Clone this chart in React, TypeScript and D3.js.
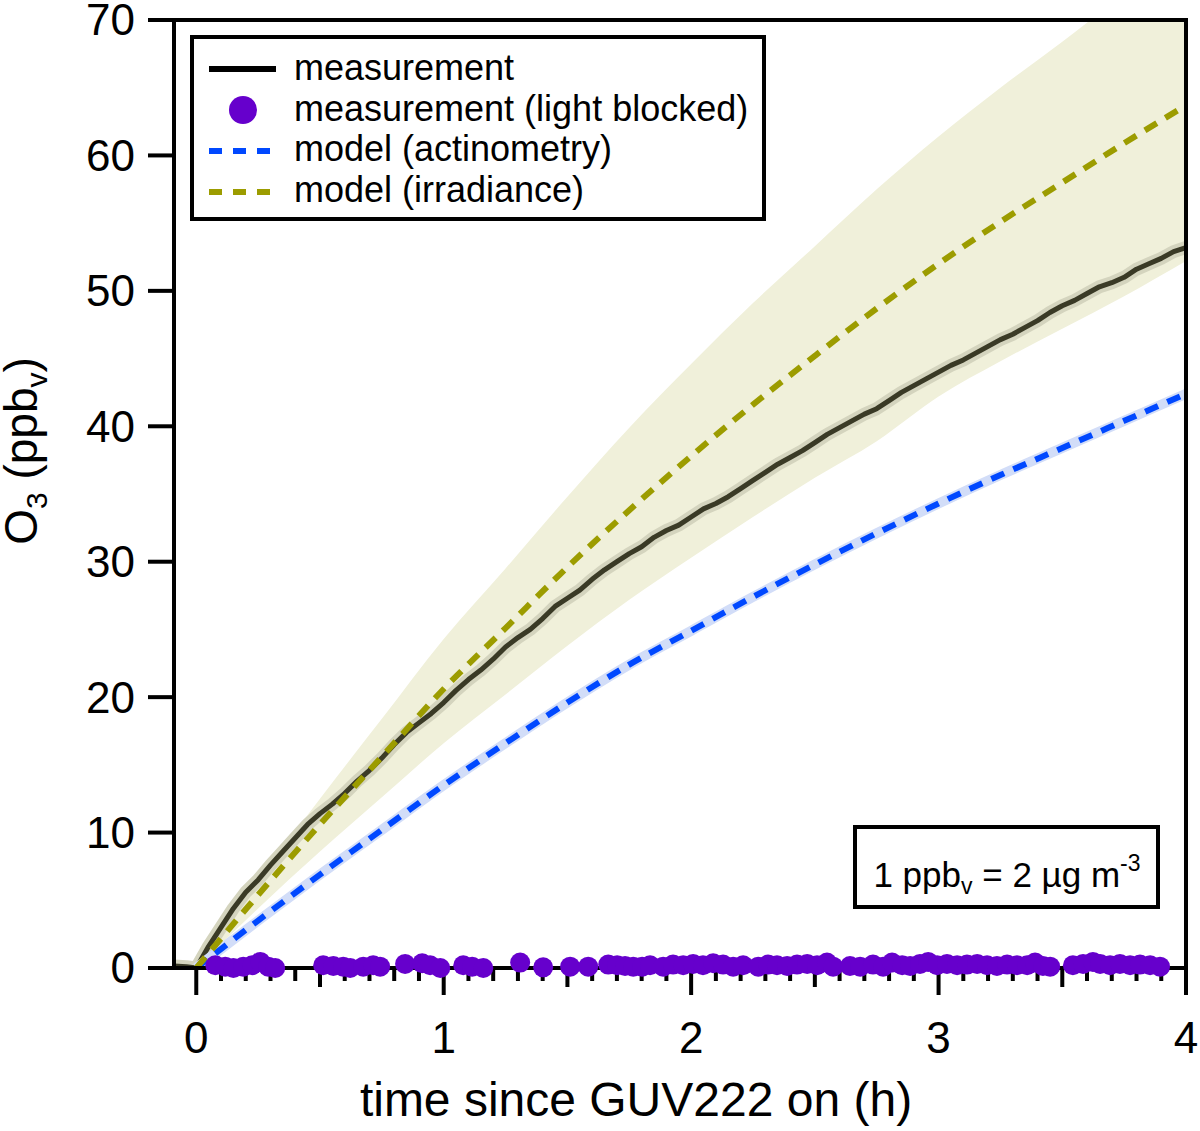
import React from 'react';
import * as d3 from 'd3';

// ---------- data ----------
const measTime = [
  -0.09, -0.04, 0.0, 0.05, 0.1, 0.15, 0.2, 0.25, 0.3, 0.35, 0.4, 0.45, 0.5, 0.55, 0.6, 0.65, 0.7, 0.75, 0.8, 0.85,
  0.9, 0.95, 1.0, 1.05, 1.1, 1.15, 1.2, 1.25, 1.3, 1.35, 1.4, 1.45, 1.5, 1.55, 1.6, 1.65, 1.7, 1.75, 1.8, 1.85,
  1.9, 1.95, 2.0, 2.05, 2.1, 2.15, 2.2, 2.25, 2.3, 2.35, 2.4, 2.45, 2.5, 2.55, 2.6, 2.65, 2.7, 2.75, 2.8, 2.85,
  2.9, 2.95, 3.0, 3.05, 3.1, 3.15, 3.2, 3.25, 3.3, 3.35, 3.4, 3.45, 3.5, 3.55, 3.6, 3.65, 3.7, 3.75, 3.8, 3.85,
  3.9, 3.95, 4.0,
];
const measO3 = [
  0.15, 0.1, 0.0, 1.6, 3.0, 4.4, 5.6, 6.5, 7.6, 8.6, 9.6, 10.6, 11.4, 12.1, 12.9, 13.8, 14.6, 15.5, 16.5, 17.4,
  18.1, 18.8, 19.6, 20.5, 21.3, 22.0, 22.8, 23.7, 24.4, 25.0, 25.8, 26.7, 27.3, 27.9, 28.7, 29.4, 30.0, 30.6, 31.1, 31.8,
  32.3, 32.7, 33.3, 33.9, 34.3, 34.8, 35.4, 36.0, 36.6, 37.2, 37.7, 38.2, 38.8, 39.4, 39.9, 40.4, 40.9, 41.3, 41.9, 42.5,
  43.0, 43.5, 44.0, 44.5, 44.9, 45.4, 45.9, 46.4, 46.8, 47.3, 47.8, 48.4, 48.9, 49.3, 49.8, 50.3, 50.6, 51.0, 51.6, 52.0,
  52.4, 52.9, 53.2,
];

const modelTime = [0, 0.25, 0.5, 0.75, 1.0, 1.25, 1.5, 1.75, 2.0, 2.25, 2.5, 2.75, 3.0, 3.25, 3.5, 3.75, 4.0];
const actinometry = [0, 3.5, 6.9, 10.2, 13.5, 16.6, 19.6, 22.4, 24.9, 27.4, 29.8, 32.1, 34.3, 36.4, 38.4, 40.4, 42.4];
const irradiance = [0, 5.4, 10.6, 15.6, 20.6, 25.1, 29.6, 33.8, 37.8, 41.6, 45.2, 48.7, 52.0, 55.1, 58.0, 60.9, 63.7];
const irradianceLow = [0, 4.4, 8.6, 12.6, 16.6, 20.2, 23.8, 27.2, 30.3, 33.3, 36.2, 38.9, 42.2, 44.8, 47.2, 49.6, 52.2];
const irradianceHigh = [0, 6.4, 12.5, 18.4, 24.3, 29.5, 34.8, 39.9, 44.6, 49.1, 53.3, 57.5, 61.4, 65.0, 68.4, 71.9, 75.2];

const blockedTime = [
  0.077, 0.117, 0.15, 0.19, 0.226, 0.259, 0.291, 0.319,
  0.513, 0.554, 0.594, 0.622, 0.675, 0.715, 0.743,
  0.844, 0.913, 0.945, 0.986, 1.079, 1.115, 1.16,
  1.309, 1.402, 1.511, 1.584,
  1.665, 1.701, 1.733, 1.766, 1.802, 1.834, 1.887, 1.927, 1.968, 2.008, 2.048, 2.089, 2.129, 2.17, 2.21,
  2.271, 2.311, 2.347, 2.388, 2.428, 2.469, 2.509, 2.549, 2.574,
  2.642, 2.683, 2.735, 2.776, 2.812, 2.853, 2.885, 2.925, 2.958, 2.994, 3.034, 3.075, 3.115, 3.156, 3.196,
  3.236, 3.277, 3.317, 3.358, 3.39, 3.422, 3.451,
  3.543, 3.584, 3.624, 3.653, 3.693, 3.733, 3.774, 3.814, 3.855, 3.895,
];
const blockedO3 = [
  0.2, 0.1, 0.0, 0.1, 0.2, 0.45, 0.1, 0.0,
  0.2, 0.15, 0.1, 0.0, 0.1, 0.2, 0.1,
  0.3, 0.35, 0.2, 0.0, 0.2, 0.1, 0.0,
  0.4, 0.05, 0.1, 0.1,
  0.25, 0.2, 0.15, 0.1, 0.1, 0.2, 0.1, 0.25, 0.2, 0.3, 0.2, 0.35, 0.25, 0.1, 0.2,
  0.1, 0.25, 0.2, 0.15, 0.25, 0.3, 0.2, 0.4, 0.1,
  0.15, 0.1, 0.25, 0.1, 0.4, 0.2, 0.15, 0.3, 0.45, 0.2, 0.3, 0.2, 0.25, 0.3, 0.2,
  0.15, 0.25, 0.2, 0.2, 0.4, 0.15, 0.1,
  0.2, 0.3, 0.45, 0.3, 0.2, 0.3, 0.2, 0.25, 0.2, 0.1,
];

const xTicks = [0, 1, 2, 3, 4];
const yTicks = [0, 10, 20, 30, 40, 50, 60, 70];
const legendLabels = ['measurement', 'measurement (light blocked)', 'model (actinometry)', 'model (irradiance)'];

// ---------- style ----------
const FONT = "'Liberation Sans', Arial, Helvetica, sans-serif";
const C_MEAS = '#3a3a26';
const C_MEAS_BAND = '#d4d4be';
const C_BAND = '#f0f0da';
const C_IRR = '#9c9c00';
const C_ACT = '#0048ff';
const C_ACT_BAND = '#d2ddf8';
const C_DOT = '#6600cc';

export default function App() {
  const left = 174, right = 1186, top = 20, bottom = 968;
  const x = d3.scaleLinear().domain([-0.09, 4]).range([left, right]);
  const y = d3.scaleLinear().domain([0, 70]).range([bottom, top]);

  const measPts = measTime.map((t, i) => [t, measO3[i]] as [number, number]);
  const measLine = d3.line<[number, number]>().x(d => x(d[0])).y(d => y(d[1]))(measPts) || '';

  const modelLine = (vals: number[]) =>
    d3.line<number>().x((_, i) => x(modelTime[i])).y(d => y(d)).curve(d3.curveMonotoneX)(vals) || '';

  const bandArea = d3.area<number>()
    .x((_, i) => x(modelTime[i]))
    .y0((_, i) => y(irradianceLow[i]))
    .y1((_, i) => y(irradianceHigh[i]))
    .curve(d3.curveMonotoneX)(modelTime) || '';

  const minorTicks = d3.range(0, 41).map(i => i / 10).filter(t => Math.abs(t - Math.round(t)) > 1e-6);

  return (
    <svg width={1200} height={1131} style={{ position: 'absolute', left: 0, top: 0, background: '#fff' }}
      fontFamily={FONT}>
      <defs>
        <clipPath id="plotClip">
          <rect x={left} y={top} width={right - left} height={bottom - top} />
        </clipPath>
      </defs>
      <rect x={0} y={0} width={1200} height={1131} fill="#fff" />

      <g clipPath="url(#plotClip)">
        <path d={bandArea} fill={C_BAND} />
        <path d={measLine} fill="none" stroke={C_MEAS_BAND} strokeWidth={13} strokeLinejoin="round" />
        <path d={measLine} fill="none" stroke={C_MEAS} strokeWidth={5} strokeLinejoin="round" />
        <path d={modelLine(actinometry)} fill="none" stroke={C_ACT_BAND} strokeWidth={10} />
        <path d={modelLine(actinometry)} fill="none" stroke={C_ACT} strokeWidth={6} strokeDasharray="14 10" />
        <path d={modelLine(irradiance)} fill="none" stroke={C_IRR} strokeWidth={6} strokeDasharray="14 10" />
      </g>

      {/* frame */}
      <line x1={left} y1={top} x2={left} y2={bottom} stroke="#000" strokeWidth={4} />
      <line x1={left - 2} y1={top} x2={right + 2} y2={top} stroke="#000" strokeWidth={4} />
      <line x1={right} y1={top} x2={right} y2={bottom} stroke="#000" strokeWidth={4} />
      <line x1={148} y1={bottom} x2={right + 2} y2={bottom} stroke="#000" strokeWidth={4} />

      {/* y axis ticks */}
      {yTicks.map(v => (
        <g key={'y' + v}>
          <line x1={148} x2={left} y1={y(v)} y2={y(v)} stroke="#000" strokeWidth={4} />
          <text x={135} y={y(v)} dy="0.35em" textAnchor="end" fontSize={44}>{v}</text>
        </g>
      ))}

      {/* x axis ticks */}
      {minorTicks.map(t => (
        <line key={'m' + t} x1={x(t)} x2={x(t)} y1={bottom} y2={bottom + (Math.abs(t % 1 - 0.5) < 1e-6 ? 19 : 13)}
          stroke="#000" strokeWidth={4} />
      ))}
      {xTicks.map(t => (
        <g key={'x' + t}>
          <line x1={x(t)} x2={x(t)} y1={bottom} y2={bottom + 27} stroke="#000" strokeWidth={4} />
          <text x={x(t)} y={1053} textAnchor="middle" fontSize={44}>{t}</text>
        </g>
      ))}

      {/* light-blocked dots */}
      {blockedTime.map((t, i) => (
        <circle key={'d' + i} cx={x(t)} cy={y(blockedO3[i])} r={10} fill={C_DOT} />
      ))}

      {/* axis titles */}
      <text x={636} y={1116} textAnchor="middle" fontSize={48}>time since GUV222 on (h)</text>
      <text transform="translate(37,451) rotate(-90)" textAnchor="middle" fontSize={46}>
        O<tspan fontSize={30} dy={10}>3</tspan><tspan dy={-10}> (ppb</tspan><tspan fontSize={30} dy={10}>v</tspan><tspan dy={-10}>)</tspan>
      </text>

      {/* legend */}
      <rect x={192} y={37} width={572} height={182} fill="#fff" stroke="#000" strokeWidth={4} />
      <line x1={209} x2={276} y1={69} y2={69} stroke="#000" strokeWidth={6} />
      <circle cx={243} cy={110} r={14} fill={C_DOT} />
      <line x1={209} x2={276} y1={151} y2={151} stroke={C_ACT} strokeWidth={6} strokeDasharray="13 11" />
      <line x1={209} x2={276} y1={192} y2={192} stroke={C_IRR} strokeWidth={6} strokeDasharray="13 11" />
      {legendLabels.map((lab, i) => (
        <text key={lab} x={294} y={80 + i * 40.6} fontSize={36}>{lab}</text>
      ))}

      {/* conversion annotation */}
      <rect x={855} y={827} width={303} height={80} fill="#fff" stroke="#000" strokeWidth={4} />
      <text x={1007} y={887} textAnchor="middle" fontSize={35}>
        1 ppb<tspan fontSize={23} dy={7}>v</tspan><tspan dy={-7}> = 2 µg m</tspan><tspan fontSize={23} dy={-16}>-3</tspan>
      </text>
    </svg>
  );
}
